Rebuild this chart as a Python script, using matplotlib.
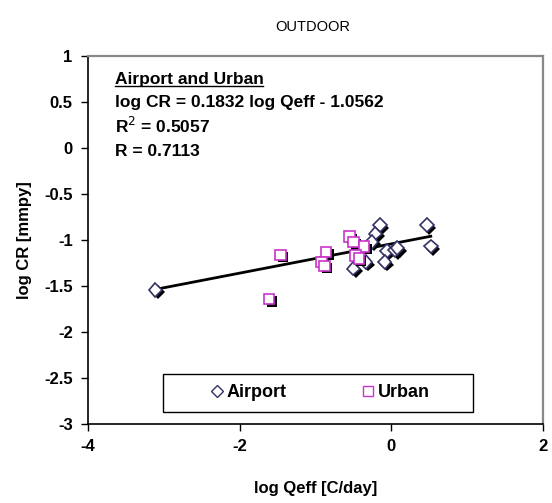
import numpy as np
import matplotlib
matplotlib.use('Agg')
import matplotlib.pyplot as plt
import matplotlib.patheffects as pe
from matplotlib.lines import Line2D
from matplotlib.patches import Rectangle

plt.rcParams['font.family'] = ['Liberation Sans', 'DejaVu Sans']
plt.rcParams['axes.unicode_minus'] = False

# Airport (diamonds) and Urban (squares): log Qeff vs log CR
airport_x = [-3.11, -0.15, -0.21, -0.26, -0.06, -0.09, -0.50, -0.34, 0.05, 0.47, 0.52, 0.08]
airport_y = [-1.54, -0.84, -0.93, -1.02, -1.12, -1.24, -1.31, -1.24, -1.11, -0.84, -1.07, -1.09]
urban_x = [-1.46, -1.61, -0.86, -0.92, -0.88, -0.55, -0.50, -0.36, -0.47, -0.43]
urban_y = [-1.16, -1.64, -1.13, -1.24, -1.28, -0.96, -1.02, -1.07, -1.17, -1.20]

# trend line as drawn in the picture
trend_slope = 0.159
trend_intercept = -1.042

eq_lines = ['log CR = 0.1832 log Qeff - 1.0562', r'R$^2$ = 0.5057', 'R = 0.7113']

fs = 12
fs_note = 12.5

fig = plt.figure(figsize=(5.52, 5.03), dpi=100)
ax = fig.add_axes([0.1594, 0.157, 0.8243, 0.7317])

shadow = [pe.SimplePatchShadow(offset=(1.8, -1.8), shadow_rgbFace='black', alpha=1.0), pe.Normal()]

xl = np.array([min(airport_x), max(airport_x)])
ax.plot(xl, trend_slope * xl + trend_intercept, color='black', lw=2, zorder=2)

ax.plot(airport_x, airport_y, ls='none', marker='D', ms=7, mfc='white', mec='#333366',
        mew=1.2, path_effects=shadow, zorder=3)
ax.plot(urban_x, urban_y, ls='none', marker='s', ms=7.5, mfc='white', mec='#CC33CC',
        mew=1.2, path_effects=shadow, zorder=3)

ax.set_xlim(-4, 2)
ax.set_ylim(-3, 1)
ax.set_xticks([-4, -2, 0, 2])
ax.set_yticks(np.arange(-3, 1.01, 0.5))
ax.set_yticklabels(['-3', '-2.5', '-2', '-1.5', '-1', '-0.5', '0', '0.5', '1'])
ax.tick_params(direction='out', length=5, width=1, labelsize=fs, pad=6)
for lab in ax.get_xticklabels() + ax.get_yticklabels():
    lab.set_fontweight('bold')

for s in ['left', 'bottom']:
    ax.spines[s].set_color('black')
    ax.spines[s].set_linewidth(1.2)
for s in ['top', 'right']:
    ax.spines[s].set_color('#888888')
    ax.spines[s].set_linewidth(1.6)

ax.set_xlabel('log Qeff [C/day]', fontsize=fs, fontweight='bold', labelpad=19)
ax.set_ylabel('log CR [mmpy]', fontsize=fs, fontweight='bold', labelpad=9)
fig.text(0.567, 0.946, 'OUTDOOR', ha='center', va='center', fontsize=10.5)

t = ax.text(-3.65, 0.74, 'Airport and Urban', fontsize=fs_note, fontweight='bold', va='center')
ax.text(-3.65, 0.49, eq_lines[0], fontsize=fs_note, fontweight='bold', va='center')
ax.text(-3.65, 0.24, eq_lines[1], fontsize=fs_note, fontweight='bold', va='center')
ax.text(-3.65, -0.04, eq_lines[2], fontsize=fs_note, fontweight='bold', va='center')

# underline for the heading
fig.canvas.draw()
bb = t.get_window_extent().transformed(ax.transData.inverted())
ax.plot([bb.x0, bb.x1], [bb.y0 + 0.02, bb.y0 + 0.02], color='black', lw=1)

# legend box
ax.add_patch(Rectangle((0.165, 0.033), 0.681, 0.103, transform=ax.transAxes,
                       facecolor='white', edgecolor='black', lw=1, zorder=4))
handles = [Line2D([], [], ls='none', marker='D', ms=6, mfc='white', mec='#333366', mew=1),
           Line2D([], [], ls='none', marker='s', ms=7, mfc='white', mec='#CC33CC', mew=1)]
leg = ax.legend(handles, ['Airport', 'Urban'], ncol=2, loc='center',
                bbox_to_anchor=(0.512, 0.0845), frameon=False, handlelength=0.6,
                handletextpad=0.25, borderaxespad=0, columnspacing=4.2,
                prop={'weight': 'bold', 'size': 13})
leg.set_zorder(5)

fig.savefig('out.png', dpi=100)
